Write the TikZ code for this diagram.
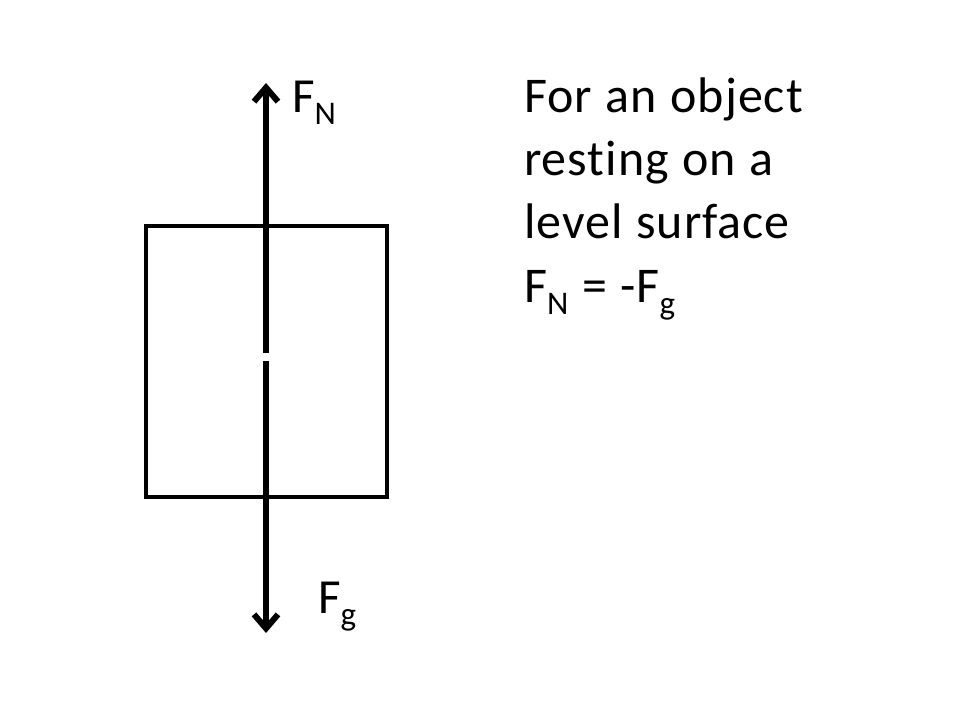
\documentclass[tikz,border=0pt]{standalone}
\usepackage{fontspec}
\setmainfont{Carlito}[WordSpace=1.1,LetterSpace=2,Ligatures=NoCommon]
\usetikzlibrary{arrows.meta}
\newcommand{\sbs}[1]{{\fontsize{33}{33}\selectfont\raisebox{-12pt}{#1}}}
\begin{document}
\begin{tikzpicture}[x=1pt,y=-1pt,
  lbl/.style={anchor=base west,inner sep=0pt,font=\fontsize{49}{58}\selectfont},
  txt/.style={anchor=base west,inner sep=0pt,font=\fontsize{50}{60}\selectfont},
  force/.style={line width=6pt,-{Straight Barb[length=14pt,width=24pt,line width=6pt]}},
  body/.style={draw,line width=4pt,minimum width=241pt,minimum height=271pt,inner sep=0pt}]
\useasboundingbox (0,0) rectangle (960,720);
\node[body] (box) at (266.5,361.5) {};
\coordinate (upstart) at (266,353);
\coordinate (uptip) at (266,83);
\coordinate (dnstart) at (266,361);
\coordinate (dntip) at (266,633);
\draw[force] (upstart) -- (uptip);
\draw[force] (dnstart) -- (dntip);
\node[lbl] (fn) at (292,112) {F\sbs{N}};
\node[lbl] (fg) at (318,613) {F\sbs{g}};
\node[txt] (t1) at (524,112) {For an object};
\node[txt] (t2) at (524,175) {resting on a};
\node[txt] (t3) at (524,238) {level surface};
\node[txt] (t4) at (524,302) {F\sbs{N} = -F\sbs{g}};
\end{tikzpicture}
\end{document}
